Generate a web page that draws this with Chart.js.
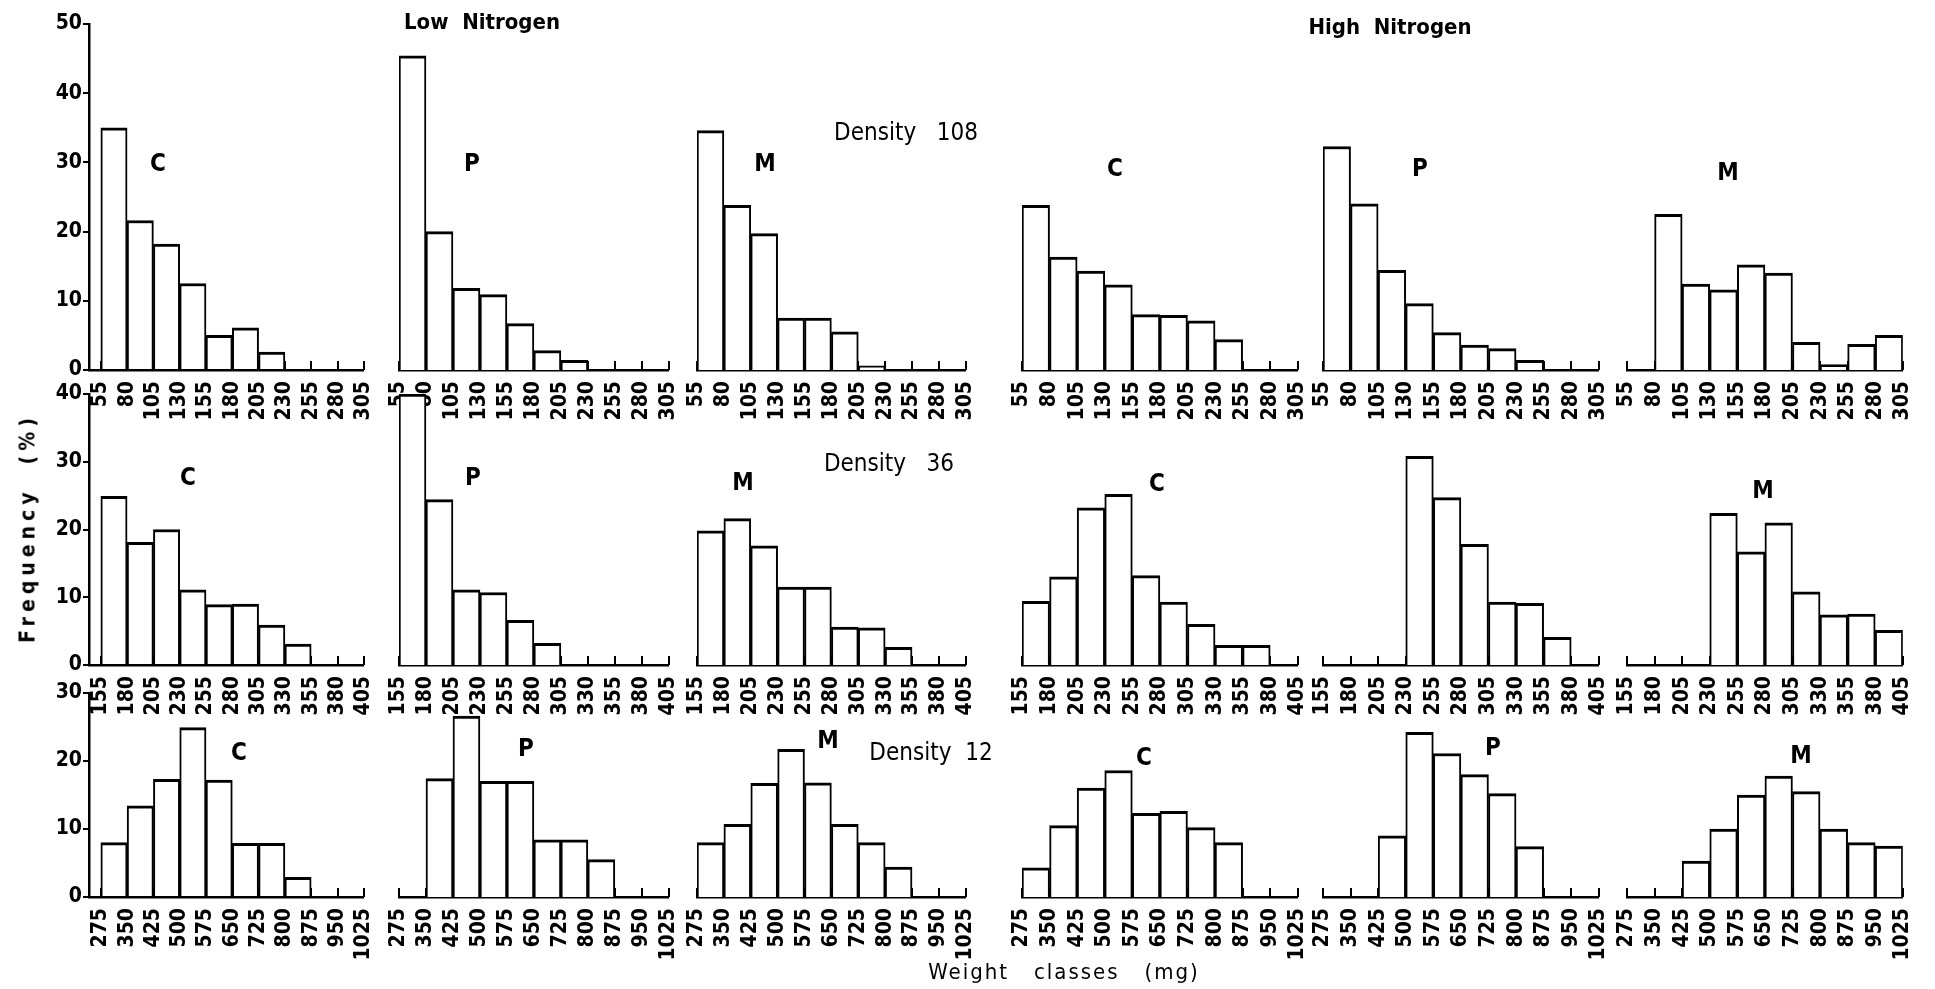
<!DOCTYPE html>
<html>
<head>
<meta charset="utf-8">
<script src="https://cdn.jsdelivr.net/npm/chart.js@4.4.1/dist/chart.umd.min.js"></script>
<style>
  html, body { margin: 0; padding: 0; background: #fff; }
  #fig { position: relative; width: 1935px; height: 989px; overflow: hidden; background: #fff; }
  #fig canvas { position: absolute; }
  .lbl {
    position: absolute; transform: translate(-50%, -50%);
    font-family: 'DejaVu Sans Condensed', 'Liberation Sans Narrow', 'DejaVu Sans', sans-serif;
    color: #000; white-space: pre; line-height: 1;
  }
</style>
</head>
<body>
<div id="fig"></div>
<script>
// weight class edges (mg) for each density
const edges108 = [55, 80, 105, 130, 155, 180, 205, 230, 255, 280, 305];
const edges36 = [155, 180, 205, 230, 255, 280, 305, 330, 355, 380, 405];
const edges12 = [275, 350, 425, 500, 575, 650, 725, 800, 875, 950, 1025];

const yMax = [50, 40, 30];

// frequency (%) per weight class — density 108
const lowC108 = [35, 21.6, 18.2, 12.5, 5, 6.1, 2.6, 0, 0, 0];
const lowP108 = [45.4, 20, 11.8, 10.9, 6.7, 2.8, 1.4, 0, 0, 0];
const lowM108 = [34.6, 23.8, 19.7, 7.5, 7.5, 5.5, 0.6, 0, 0, 0];
const highC108 = [23.8, 16.3, 14.3, 12.3, 8, 7.9, 7.1, 4.4, 0, 0];
const highP108 = [32.3, 24, 14.4, 9.6, 5.4, 3.6, 3.1, 1.4, 0, 0];
const highM108 = [0, 22.5, 12.4, 11.6, 15.2, 14, 4, 0.8, 3.7, 5];

// density 36
const lowC36 = [24.9, 18.1, 20, 11.1, 8.9, 9, 5.9, 3.1, 0, 0];
const lowP36 = [40, 24.4, 11.1, 10.7, 6.6, 3.2, 0, 0, 0, 0];
const lowM36 = [19.8, 21.6, 17.6, 11.5, 11.5, 5.6, 5.5, 2.6, 0, 0];
const highC36 = [9.4, 13, 23.2, 25.2, 13.2, 9.3, 6, 2.9, 2.9, 0];
const highP36 = [0, 0, 0, 30.8, 24.7, 17.8, 9.3, 9.1, 4.1, 0];
const highM36 = [0, 0, 0, 22.4, 16.7, 21, 10.8, 7.4, 7.5, 5.1];

// density 12
const lowC12 = [8, 13.4, 17.3, 24.9, 17.2, 7.9, 7.9, 2.9, 0, 0];
const lowP12 = [0, 17.4, 26.6, 17, 17, 8.4, 8.4, 5.5, 0, 0];
const lowM12 = [8, 10.7, 16.7, 21.7, 16.8, 10.7, 8, 4.4, 0, 0];
const highC12 = [4.3, 10.5, 16, 18.6, 12.3, 12.6, 10.2, 8, 0, 0];
const highP12 = [0, 0, 9, 24.2, 21.1, 18, 15.2, 7.4, 0, 0];
const highM12 = [0, 0, 5.3, 10, 15, 17.8, 15.5, 10, 8, 7.5];

const panelLetters = [
  ['C', 'P', 'M', 'C', 'P', 'M'],
  ['C', 'P', 'M', 'C', '', 'M'],
  ['C', 'P', 'M', 'C', 'P', 'M']
];

const rows = [
  { edges: edges108, max: yMax[0], sets: [lowC108, lowP108, lowM108, highC108, highP108, highM108] },
  { edges: edges36, max: yMax[1], sets: [lowC36, lowP36, lowM36, highC36, highP36, highM36] },
  { edges: edges12, max: yMax[2], sets: [lowC12, lowP12, lowM12, highC12, highP12, highM12] }
];

// page layout (px)
const rowTop = [24, 394, 693];
const rowBottom = [370, 665, 897];
const colLeft = [101, 399, 697, 1022, 1323, 1627];
const colRight = [368, 673, 970, 1302, 1603, 1907];
const yAxisX = 89;
const yAxisW = 56;
const padT = 14, padL = 24, padR = 24;
const labelH = [56, 56, 66];
const letterPos = [
  [[158, 163], [472, 163], [765, 163], [1115, 168], [1420, 168], [1728, 172]],
  [[188, 477], [473, 477], [743, 482], [1157, 483], null, [1763, 490]],
  [[239, 752], [526, 748], [828, 740], [1144, 757], [1493, 747], [1801, 755]]
];

const FONT = "'DejaVu Sans Condensed', 'Liberation Sans Narrow', 'DejaVu Sans', sans-serif";
const fig = document.getElementById('fig');

// short upward ticks at every class boundary
const upTicks = {
  id: 'upTicks',
  afterDatasetsDraw(chart) {
    const xs = chart.scales.x, area = chart.chartArea, ctx = chart.ctx;
    ctx.save();
    ctx.strokeStyle = '#000';
    ctx.lineWidth = 2;
    xs.ticks.forEach((t, i) => {
      const px = Math.round(xs.getPixelForTick(i));
      ctx.beginPath();
      ctx.moveTo(px, area.bottom);
      ctx.lineTo(px, area.bottom - 9);
      ctx.stroke();
    });
    ctx.restore();
  }
};

function addText(text, x, y, css) {
  const d = document.createElement('div');
  d.className = 'lbl';
  d.textContent = text;
  d.style.left = x + 'px';
  d.style.top = y + 'px';
  Object.assign(d.style, css || {});
  fig.appendChild(d);
}

rows.forEach((row, r) => {
  const edges = row.edges;
  const step = edges[1] - edges[0];
  row.sets.forEach((vals, c) => {
    const first = c === 0;
    const plotLeft = first ? yAxisX : colLeft[c];
    const binPx = (colRight[c] - colLeft[c]) / (edges.length - 1);
    // the first column leaves a small gap between the y axis and the first class
    const xMin = first ? edges[0] - step * (colLeft[c] - yAxisX) / binPx : edges[0];

    const canvas = document.createElement('canvas');
    const w = (first ? yAxisW : 0) + padL + (colRight[c] - plotLeft) + padR;
    const h = padT + (rowBottom[r] - rowTop[r]) + labelH[r];
    canvas.width = w;
    canvas.height = h;
    canvas.style.left = (plotLeft - padL - (first ? yAxisW : 0)) + 'px';
    canvas.style.top = (rowTop[r] - padT) + 'px';
    fig.appendChild(canvas);

    const points = vals.map((v, i) => ({
      x: (edges[i] + edges[i + 1]) / 2,
      y: v === 0 ? null : v
    }));

    const yScale = {
      display: first,
      min: 0,
      max: row.max,
      grid: { drawOnChartArea: false, tickLength: 6, color: '#000', lineWidth: 2 },
      border: { display: true, color: '#000', width: 2.5 },
      ticks: {
        stepSize: 10,
        padding: 1,
        color: '#000',
        font: { family: FONT, size: 21, weight: 'bold' }
      }
    };
    if (first) yScale.afterFit = s => { s.width = yAxisW; };

    new Chart(canvas, {
      type: 'bar',
      data: {
        datasets: [{
          data: points,
          backgroundColor: '#fff',
          borderColor: '#000',
          borderWidth: { top: 3, left: 2, right: 2, bottom: 0 },
          borderSkipped: false,
          barPercentage: 1,
          categoryPercentage: 1
        }]
      },
      options: {
        responsive: false,
        animation: false,
        devicePixelRatio: 1,
        layout: { padding: { left: padL, right: padR, top: padT, bottom: 0 } },
        plugins: { legend: { display: false }, tooltip: { enabled: false } },
        scales: {
          x: {
            type: 'linear',
            min: xMin,
            max: edges[edges.length - 1],
            offset: false,
            bounds: 'data',
            afterBuildTicks: s => { s.ticks = edges.map(v => ({ value: v })); },
            afterFit: s => { s.height = labelH[r]; },
            grid: { display: false },
            border: { display: true, color: '#000', width: 2.5 },
            ticks: {
              autoSkip: false,
              minRotation: 90,
              maxRotation: 90,
              padding: 3,
              color: '#000',
              font: { family: FONT, size: 21, weight: 'bold' },
              callback: v => String(v)
            }
          },
          y: yScale
        }
      },
      plugins: [upTicks]
    });

    const pos = letterPos[r][c];
    if (pos && panelLetters[r][c]) {
      addText(panelLetters[r][c], pos[0], pos[1], { fontSize: '24px', fontWeight: 'bold' });
    }
  });
});

addText('Low  Nitrogen', 482, 22, { fontSize: '22px', fontWeight: 'bold' });
addText('High  Nitrogen', 1390, 27, { fontSize: '22px', fontWeight: 'bold' });
addText('Density   108', 906, 132, { fontSize: '24px' });
addText('Density   36', 889, 463, { fontSize: '24px' });
addText('Density  12', 931, 752, { fontSize: '24px' });
addText('Frequency  (%)', 28, 528, { fontSize: '21px', fontWeight: 'bold', letterSpacing: '5px', transform: 'translate(-50%, -50%) rotate(-90deg)' });
addText('Weight   classes   (mg)', 1064, 972, { fontSize: '22px', letterSpacing: '2px' });
</script>
</body>
</html>
